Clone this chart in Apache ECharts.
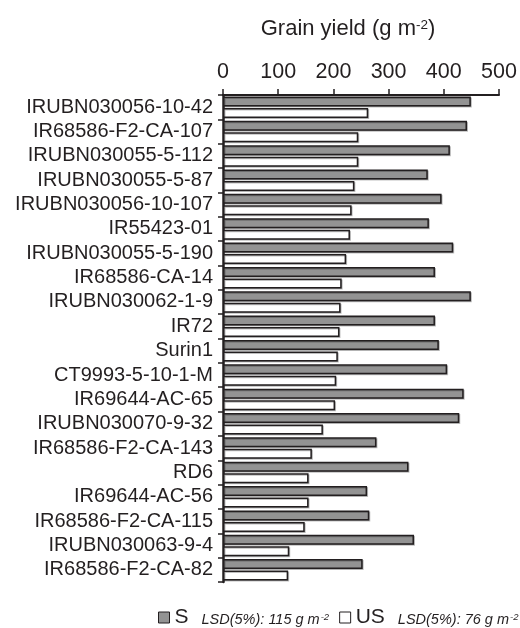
<!DOCTYPE html>
<html>
<head>
<meta charset="utf-8">
<script src="https://cdn.jsdelivr.net/npm/echarts@6/dist/echarts.min.js"></script>
<style>html,body{margin:0;padding:0;background:#fff;}#c{width:520px;height:628px;}</style>
</head>
<body>
<div id="c"></div>
<script>
const categories = [
  'IRUBN030056-10-42','IR68586-F2-CA-107','IRUBN030055-5-112','IRUBN030055-5-87',
  'IRUBN030056-10-107','IR55423-01','IRUBN030055-5-190','IR68586-CA-14',
  'IRUBN030062-1-9','IR72','Surin1','CT9993-5-10-1-M','IR69644-AC-65',
  'IRUBN030070-9-32','IR68586-F2-CA-143','RD6','IR69644-AC-56',
  'IR68586-F2-CA-115','IRUBN030063-9-4','IR68586-F2-CA-82'
];
const sValues = [449, 442, 411, 371, 396, 373, 417, 384, 449, 384, 391, 406, 436, 428, 278, 336, 261, 265, 346, 253];
const usValues = [263, 245, 245, 238, 233, 230, 223, 215, 213, 211, 208, 205, 203, 181, 161, 155, 155, 148, 120, 118];
const xTicks = [0, 100, 200, 300, 400, 500];
const seriesNames = ['S', 'US'];
const lsdText = ['LSD(5%): 115 g m', 'LSD(5%): 76 g m'];

const FONT = 'Liberation Sans, Arial, sans-serif';
const INK = '#231f20';
const chart = echarts.init(document.getElementById('c'), null, {renderer: 'canvas'});
chart.setOption({
  animation: false,
  textStyle: {fontFamily: FONT, color: INK},
  grid: {left: 223, right: 21, top: 95, bottom: 46, containLabel: false},
  graphic: [{
    type: 'text', x: 348, y: 29,
    style: {
      text: '{t|Grain yield (g m}{s|-2}{t|)}',
      align: 'center', verticalAlign: 'middle',
      rich: {
        t: {fontSize: 22, fontFamily: FONT, fill: INK, verticalAlign: 'bottom'},
        s: {fontSize: 13.5, fontFamily: FONT, fill: INK, verticalAlign: 'top'}
      }
    }
  }],
  xAxis: {
    type: 'value', position: 'top', min: 0, max: 500, interval: 100,
    axisLine: {show: true, lineStyle: {color: INK, width: 2}},
    axisTick: {show: true, length: 6, lineStyle: {color: INK, width: 1.5}},
    axisLabel: {fontSize: 21.5, color: INK, margin: 12, fontFamily: FONT,
      formatter: v => xTicks.includes(v) ? String(v) : ''},
    splitLine: {show: false}
  },
  yAxis: {
    type: 'category', data: categories, inverse: true,
    axisLine: {show: true, lineStyle: {color: INK, width: 2.5}},
    axisTick: {show: true, length: 5, interval: 0, lineStyle: {color: INK, width: 1.5}},
    axisLabel: {fontSize: 20, color: INK, margin: 10, interval: 0, fontFamily: FONT}
  },
  legend: {
    left: 153, top: 602, width: 800, itemWidth: 11, itemHeight: 11, itemGap: 10, icon: 'rect',
    data: [
      {name: 'S', itemStyle: {color: '#939393', borderColor: INK, borderWidth: 1}},
      {name: 'US', itemStyle: {color: '#ffffff', borderColor: INK, borderWidth: 1}}
    ],
    formatter: name => {
      const i = seriesNames.indexOf(name);
      return '{n|' + name + '}{i|' + lsdText[i] + '}{s|-2}';
    },
    textStyle: {
      rich: {
        n: {fontSize: 21, fontFamily: FONT, color: INK, verticalAlign: 'bottom'},
        i: {fontSize: 14.5, fontStyle: 'italic', fontFamily: FONT, color: INK, verticalAlign: 'bottom', padding: [0, 0, 1, 13]},
        s: {fontSize: 9.5, fontStyle: 'italic', fontFamily: FONT, color: INK, verticalAlign: 'bottom', padding: [0, 0, 6, 1]}
      }
    }
  },
  series: [
    {
      name: 'S', type: 'bar', data: sValues, barWidth: 10, barGap: '15%',
      itemStyle: {color: '#939393', borderColor: INK, borderWidth: 1.5,
        shadowColor: 'rgba(0,0,0,0.25)', shadowOffsetX: 1, shadowOffsetY: 1, shadowBlur: 0}
    },
    {
      name: 'US', type: 'bar', data: usValues, barWidth: 10, barGap: '15%',
      itemStyle: {color: '#ffffff', borderColor: INK, borderWidth: 1.5,
        shadowColor: 'rgba(0,0,0,0.25)', shadowOffsetX: 1, shadowOffsetY: 1, shadowBlur: 0}
    }
  ]
});
</script>
</body>
</html>
